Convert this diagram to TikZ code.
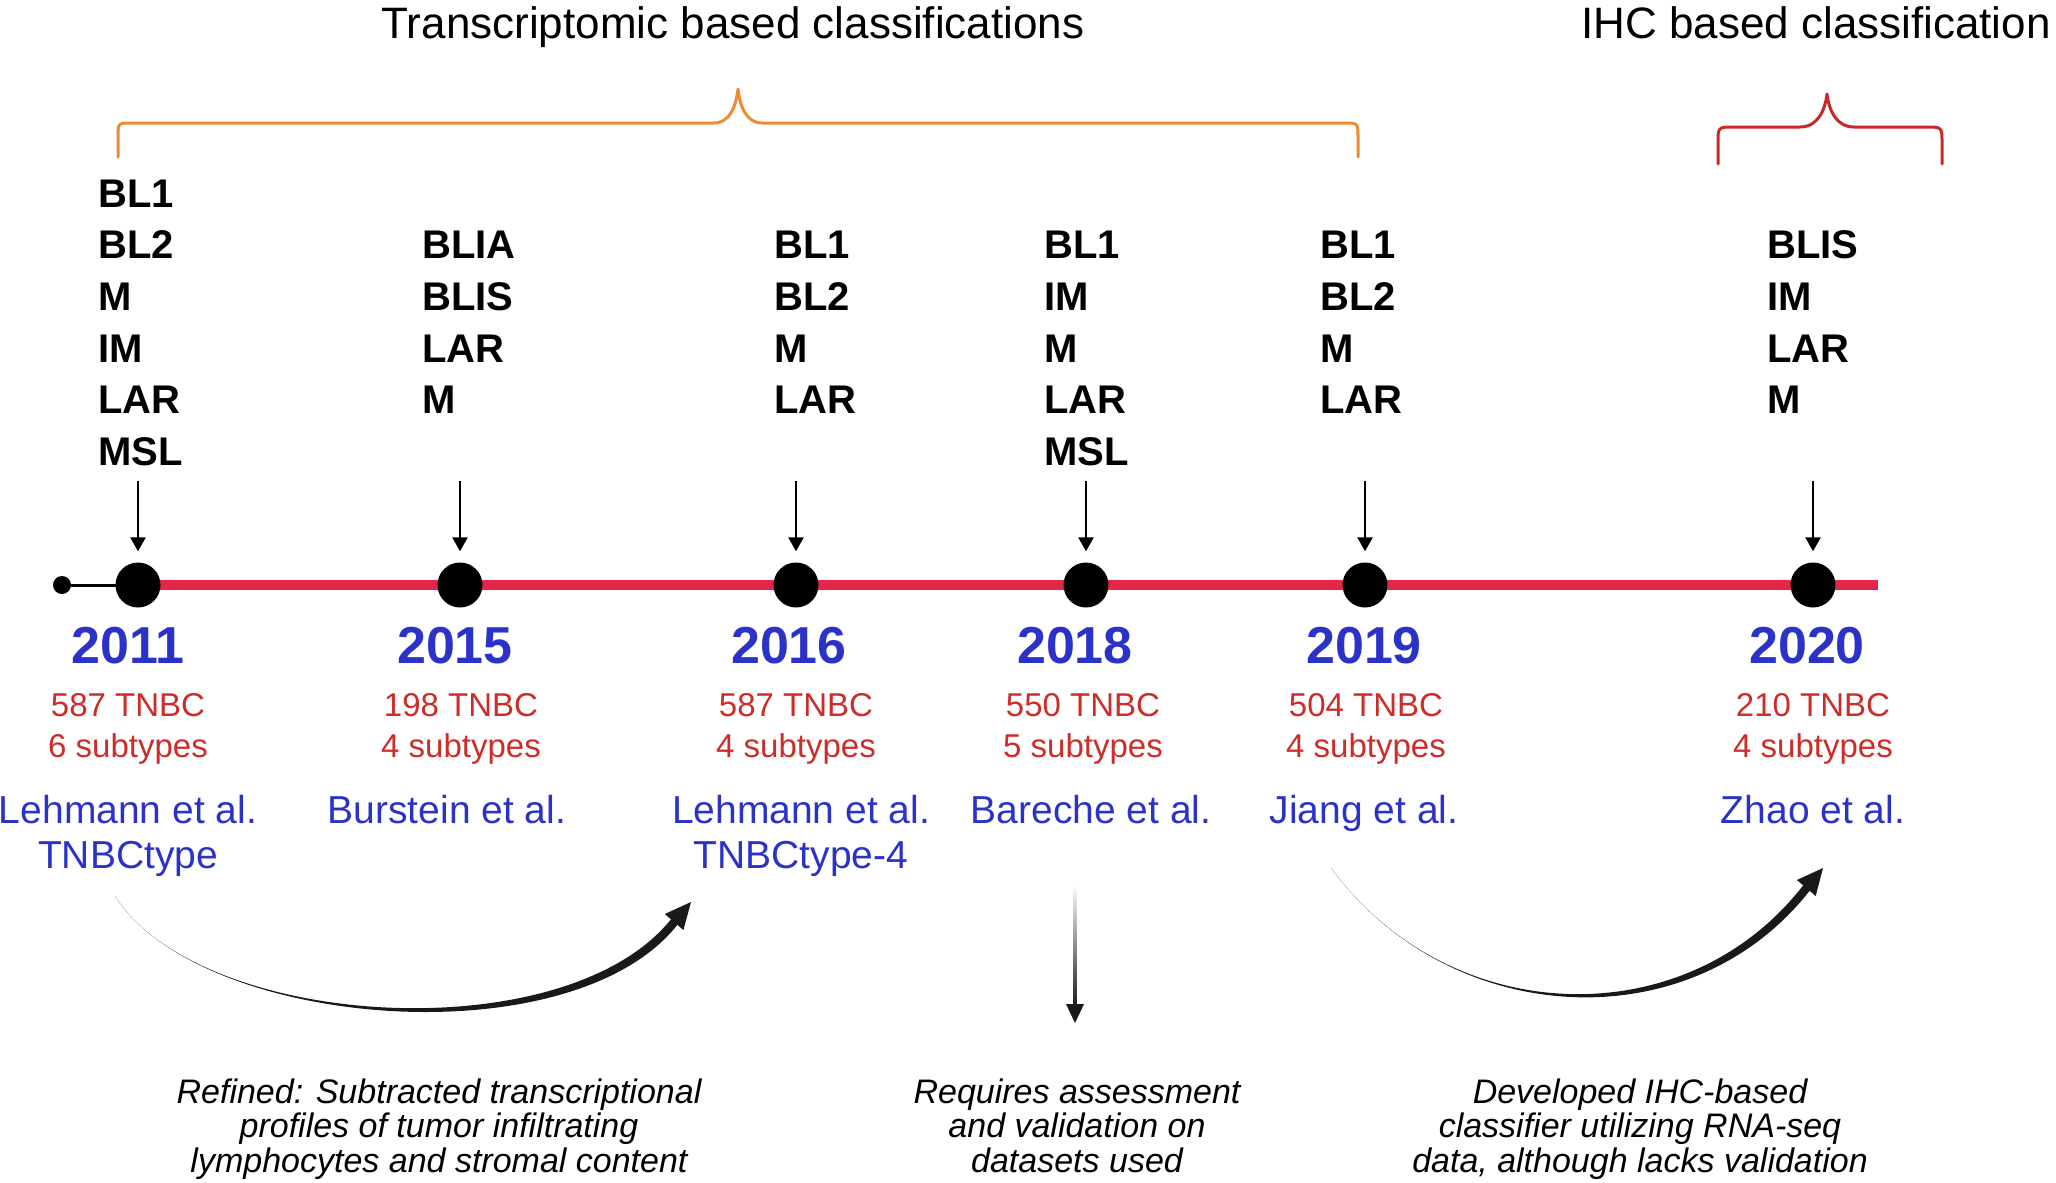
\documentclass[tikz,border=0pt]{standalone}
\usepackage{fontspec}
\setmainfont{Liberation Sans}
\usetikzlibrary{arrows.meta,fadings}
\definecolor{tblue}{RGB}{43,50,200}
\definecolor{tred}{RGB}{205,45,40}
\definecolor{tline}{RGB}{228,38,75}
\definecolor{torange}{RGB}{236,140,50}
\definecolor{tbrace}{RGB}{200,40,40}
\tikzfading[name=vfade, top color=transparent!100, middle color=transparent!0, bottom color=transparent!0]
\begin{document}
\begin{tikzpicture}[x=1pt,y=-1pt,
  title/.style={font=\fontsize{44}{50}\selectfont, anchor=base, inner sep=0},
  sub/.style={font=\fontsize{40}{48}\selectfont\bfseries, anchor=base west, inner sep=0},
  year/.style={font=\fontsize{52}{60}\selectfont\bfseries, text=tblue, anchor=base, inner sep=0},
  cnt/.style={font=\fontsize{33}{40}\selectfont, text=tred, anchor=base, inner sep=0},
  auth/.style={font=\fontsize{39}{45}\selectfont, text=tblue, anchor=base, inner sep=0},
  note/.style={font=\fontsize{34}{40}\selectfont\itshape, anchor=base, inner sep=0},
  bigdot/.style={circle, fill=black, minimum size=45pt, inner sep=0},
  smalldot/.style={circle, fill=black, minimum size=18pt, inner sep=0},
  down/.style={line width=2.5pt, -{Triangle[length=14pt,width=15pt]}},
  brace/.style={line width=3pt, line cap=round, line join=round}
]
\useasboundingbox (0,0) rectangle (2056,1183);

% titles
\node[title] (t1) at (733,38) {Transcriptomic based classifications};
\node[title] (t2) at (1816,38) {IHC based classification};

% braces
\draw[brace, torange] (118,157) -- (118,137) .. controls (118,123) .. (132,123) -- (714,123)
  .. controls (730,123) and (736,106) .. (738,89) .. controls (740,106) and (746,123) .. (762,123)
  -- (1344,123) .. controls (1358,123) .. (1358,137) -- (1358,157);
\draw[brace, tbrace] (1718,164) -- (1718,143) .. controls (1718,127) .. (1734,127) -- (1800,127)
  .. controls (1818,127) and (1825,110) .. (1827,94) .. controls (1829,110) and (1836,127) .. (1854,127)
  -- (1926,127) .. controls (1942,127) .. (1942,143) -- (1942,164);

% timeline
\node[smalldot] (d0) at (62,585) {};
\coordinate (lend) at (1878,585);
\draw[line width=3pt] (d0.center) -- (138,585);
\draw[tline, line width=10pt] (138,585) -- (lend);
\node[bigdot] (d1) at (138,585) {};
\node[bigdot] (d2) at (460,585) {};
\node[bigdot] (d3) at (796,585) {};
\node[bigdot] (d4) at (1086,585) {};
\node[bigdot] (d5) at (1365,585) {};
\node[bigdot] (d6) at (1813,585) {};

% subtype lists
\foreach \lbl [count=\i] in {BL1,BL2,M,IM,LAR,MSL}
  \node[sub] (ca\i) at (98,{207+51.7*(\i-1)}) {\lbl};
\foreach \lbl [count=\i] in {BLIA,BLIS,LAR,M}
  \node[sub] (cb\i) at (422,{258.7+51.7*(\i-1)}) {\lbl};
\foreach \lbl [count=\i] in {BL1,BL2,M,LAR}
  \node[sub] (cc\i) at (774,{258.7+51.7*(\i-1)}) {\lbl};
\foreach \lbl [count=\i] in {BL1,IM,M,LAR,MSL}
  \node[sub] (cd\i) at (1044,{258.7+51.7*(\i-1)}) {\lbl};
\foreach \lbl [count=\i] in {BL1,BL2,M,LAR}
  \node[sub] (ce\i) at (1320,{258.7+51.7*(\i-1)}) {\lbl};
\foreach \lbl [count=\i] in {BLIS,IM,LAR,M}
  \node[sub] (cf\i) at (1767,{258.7+51.7*(\i-1)}) {\lbl};

% down arrows
\foreach \d in {d1,d2,d3,d4,d5,d6}
  \draw[down] ([yshift=81.5pt]\d.north) -- ([yshift=11pt]\d.north);

% years
\node[year] (y1) at (128,663) {2011};
\node[year] (y2) at (455,663) {2015};
\node[year] (y3) at (789,663) {2016};
\node[year] (y4) at (1075,663) {2018};
\node[year] (y5) at (1364,663) {2019};
\node[year] (y6) at (1807,663) {2020};

% counts
\node[cnt] (n1a) at (128,716) {587 TNBC};   \node[cnt] (n1b) at (128,757) {6 subtypes};
\node[cnt] (n2a) at (461,716) {198 TNBC};   \node[cnt] (n2b) at (461,757) {4 subtypes};
\node[cnt] (n3a) at (796,716) {587 TNBC};   \node[cnt] (n3b) at (796,757) {4 subtypes};
\node[cnt] (n4a) at (1083,716) {550 TNBC};  \node[cnt] (n4b) at (1083,757) {5 subtypes};
\node[cnt] (n5a) at (1366,716) {504 TNBC};  \node[cnt] (n5b) at (1366,757) {4 subtypes};
\node[cnt] (n6a) at (1813,716) {210 TNBC};  \node[cnt] (n6b) at (1813,757) {4 subtypes};

% authors
\node[auth] (a1a) at (128,823) {Lehmann et al.};
\node[auth] (a1b) at (128,868) {TNBCtype};
\node[auth] (a2a) at (447,823) {Burstein et al.};
\node[auth] (a3a) at (801,823) {Lehmann et al.};
\node[auth] (a3b) at (801,868) {TNBCtype-4};
\node[auth] (a4a) at (1091,823) {Bareche et al.};
\node[auth] (a5a) at (1364,823) {Jiang et al.};
\node[auth] (a6a) at (1813,823) {Zhao et al.};

% curved arrow 1 (tapered)
\coordinate (r1s) at (115,896);
\coordinate (r1t) at (691,902);
\fill[black!90] (r1s) .. controls (200,1030) and (573,1059) .. (678,924)
  -- (672,918) .. controls (567,1052) and (200,1030) .. (r1s) -- cycle;
\fill[black!90] (r1t) -- (683.4,930) -- (664.8,914) -- cycle;

% vertical arrow
\coordinate (v1) at (1075,886);
\coordinate (v2) at (1075,1023);
\draw[line width=3.5pt, black!90, path fading=vfade] (v1) -- (1075,1006);
\fill[black!90] (v2) -- (1066,1004) -- (1084,1004) -- cycle;

% curved arrow 3 (tapered)
\coordinate (r3s) at (1331,868);
\coordinate (r3t) at (1823,868);
\fill[black!90] (r3s) .. controls (1450,1030) and (1692,1043) .. (1811,889)
  -- (1805,883) .. controls (1688,1037) and (1450,1030) .. (r3s) -- cycle;
\fill[black!90] (r3t) -- (1815.7,896) -- (1796.9,880) -- cycle;

% notes
\node[note] (m1a) at (439,1103) {Refined: Subtracted transcriptional};
\node[note] (m1b) at (439,1137.5) {profiles of tumor infiltrating};
\node[note] (m1c) at (439,1172) {lymphocytes and stromal content};
\node[note] (m2a) at (1077,1103) {Requires assessment};
\node[note] (m2b) at (1077,1137.5) {and validation on};
\node[note] (m2c) at (1077,1172) {datasets used};
\node[note] (m3a) at (1640,1103) {Developed IHC-based};
\node[note] (m3b) at (1640,1137.5) {classifier utilizing RNA-seq};
\node[note] (m3c) at (1640,1172) {data, although lacks validation};
\end{tikzpicture}
\end{document}
